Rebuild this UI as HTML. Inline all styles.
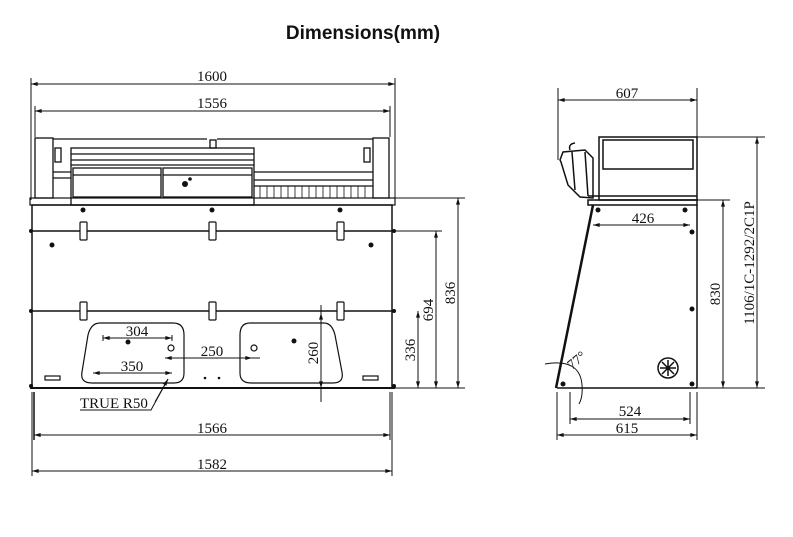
<!DOCTYPE html>
<html><head><meta charset="utf-8"><style>
html,body{margin:0;padding:0;background:#fff;width:793px;height:537px;overflow:hidden}
svg{display:block}
text{font-family:"Liberation Serif",serif;font-size:15px;fill:#111}
</style></head><body>
<svg width="793" height="537" viewBox="0 0 793 537" xmlns="http://www.w3.org/2000/svg">
<defs>
<marker id="a" viewBox="0 0 10 6" refX="10" refY="3" markerWidth="10" markerHeight="4" orient="auto-start-reverse" markerUnits="userSpaceOnUse"><path d="M0,0L10,3L0,6z" fill="#111"/></marker>
</defs>
<text x="363" y="39" text-anchor="middle" style="font-family:'Liberation Sans',sans-serif;font-weight:bold;font-size:19px">Dimensions(mm)</text>

<g stroke="#111" fill="none" stroke-width="1">
<line x1="31" y1="78" x2="31" y2="200"/><line x1="395" y1="78" x2="395" y2="198"/>
<line x1="31" y1="84" x2="395" y2="84" marker-start="url(#a)" marker-end="url(#a)"/>
<line x1="35" y1="106" x2="35" y2="137"/><line x1="390" y1="106" x2="390" y2="137"/>
<line x1="35" y1="111" x2="390" y2="111" marker-start="url(#a)" marker-end="url(#a)"/>
</g>
<text x="212" y="81" text-anchor="middle">1600</text>
<text x="212" y="108" text-anchor="middle">1556</text>

<g stroke="#111" fill="none" stroke-width="1.3">
<rect x="35" y="138" width="18" height="60"/>
<rect x="373" y="138" width="16" height="60"/>
<line x1="53" y1="139" x2="207" y2="139"/><line x1="217" y1="139" x2="373" y2="139"/>
<rect x="71" y="148" width="183" height="57"/>
<line x1="71" y1="154" x2="254" y2="154"/><line x1="71" y1="160" x2="254" y2="160"/><line x1="71" y1="165" x2="254" y2="165"/>
<rect x="73" y="168" width="88" height="29"/><rect x="163" y="168" width="89" height="29"/>
<line x1="73" y1="175" x2="161" y2="175"/><line x1="163" y1="175" x2="252" y2="175"/>
<rect x="55" y="148" width="6" height="14"/><rect x="364" y="148" width="6" height="14"/>
<line x1="53" y1="172" x2="71" y2="172"/><line x1="53" y1="178" x2="71" y2="178"/>
<line x1="254" y1="172" x2="373" y2="172"/><line x1="254" y1="180" x2="373" y2="180"/><line x1="254" y1="186" x2="373" y2="186"/>
<rect x="210" y="140" width="6" height="8"/>
</g>
<g stroke="#111" stroke-width="0.8" fill="none">
<path d="M260 186v12M267 186v12M274 186v12M281 186v12M288 186v12M295 186v12M302 186v12M309 186v12M316 186v12M323 186v12M330 186v12M337 186v12M344 186v12M351 186v12M358 186v12M365 186v12"/>
</g>
<circle cx="185" cy="184" r="3" fill="#111"/><circle cx="190" cy="179" r="1.8" fill="#111"/>
<rect x="30" y="198" width="365" height="7" fill="none" stroke="#111" stroke-width="1.2"/>

<g stroke="#111" fill="none" stroke-width="1.5">
<rect x="32" y="205" width="360" height="183"/>
<line x1="30" y1="231" x2="395" y2="231"/>
<line x1="30" y1="311" x2="395" y2="311"/>
<line x1="30" y1="388" x2="395" y2="388" stroke-width="2"/>
</g>
<g fill="#111">
<circle cx="83" cy="210" r="2.5"/><circle cx="212" cy="210" r="2.5"/><circle cx="340" cy="210" r="2.5"/>
<circle cx="52" cy="245" r="2.5"/><circle cx="371" cy="245" r="2.5"/>
<circle cx="31" cy="231" r="2"/><circle cx="394" cy="231" r="2"/><circle cx="31" cy="311" r="2"/><circle cx="394" cy="311" r="2"/><circle cx="31" cy="386" r="2"/><circle cx="394" cy="386" r="2"/>
<circle cx="205" cy="378" r="1.3"/><circle cx="219" cy="378" r="1.3"/>
</g>
<g stroke="#111" fill="#fff" stroke-width="1.2">
<rect x="80" y="222" width="7" height="18" rx="1"/><rect x="209" y="222" width="7" height="18" rx="1"/><rect x="337" y="222" width="7" height="18" rx="1"/>
<rect x="80" y="302" width="7" height="18" rx="1"/><rect x="209" y="302" width="7" height="18" rx="1"/><rect x="337" y="302" width="7" height="18" rx="1"/>
<rect x="45" y="376" width="15" height="4"/><rect x="363" y="376" width="15" height="4"/>
</g>
<g stroke="#111" fill="none" stroke-width="1.2">
<path d="M100 323H173Q184 323 184 335V373Q184 383 174 383H92Q80 383 82 372L88 335Q91 323 100 323Z"/>
<path d="M250 323H324Q332 323 335 335L342 372Q344 383 333 383H251Q240 383 240 373V335Q240 323 250 323Z"/>
<circle cx="171" cy="348" r="3"/><circle cx="254" cy="348" r="3"/>
</g>
<circle cx="128" cy="342" r="2.5" fill="#111"/><circle cx="294" cy="341" r="2.5" fill="#111"/>

<g stroke="#111" fill="none" stroke-width="1">
<line x1="103" y1="338" x2="172" y2="338" marker-start="url(#a)" marker-end="url(#a)"/>
<line x1="103" y1="335" x2="103" y2="341"/><line x1="172" y1="335" x2="172" y2="341"/>
<line x1="93" y1="373" x2="172" y2="373" marker-start="url(#a)" marker-end="url(#a)"/>
<line x1="165" y1="358" x2="260" y2="358"/>
<line x1="180" y1="358" x2="165" y2="358" marker-end="url(#a)"/>
<line x1="240" y1="358" x2="252" y2="358" marker-end="url(#a)"/>
<line x1="321" y1="305" x2="321" y2="402"/>
<line x1="321" y1="320" x2="321" y2="313" marker-end="url(#a)"/>
<line x1="321" y1="380" x2="321" y2="388" marker-end="url(#a)"/>
<path d="M168 379L151 410H80"/>
<line x1="155" y1="402" x2="168" y2="379" marker-end="url(#a)"/>
</g>
<text x="137" y="336" text-anchor="middle">304</text>
<text x="132" y="371" text-anchor="middle">350</text>
<text x="212" y="356" text-anchor="middle">250</text>
<text transform="translate(318,353) rotate(-90)" text-anchor="middle">260</text>
<text x="80" y="408">TRUE R50</text>

<g stroke="#111" fill="none" stroke-width="1">
<line x1="395" y1="198" x2="465" y2="198"/><line x1="395" y1="231" x2="442" y2="231"/><line x1="395" y1="388" x2="465" y2="388"/>
<line x1="458" y1="198" x2="458" y2="388" marker-start="url(#a)" marker-end="url(#a)"/>
<line x1="436" y1="231" x2="436" y2="388" marker-start="url(#a)" marker-end="url(#a)"/>
<line x1="418" y1="311" x2="418" y2="388" marker-start="url(#a)" marker-end="url(#a)"/>
</g>
<text transform="translate(455,293) rotate(-90)" text-anchor="middle">836</text>
<text transform="translate(433,310) rotate(-90)" text-anchor="middle">694</text>
<text transform="translate(415,350) rotate(-90)" text-anchor="middle">336</text>

<g stroke="#111" fill="none" stroke-width="1">
<line x1="32" y1="392" x2="32" y2="476"/><line x1="392" y1="392" x2="392" y2="476"/>
<line x1="34" y1="392" x2="34" y2="440" stroke-width="1.5"/><line x1="390" y1="392" x2="390" y2="440"/>
<line x1="34" y1="435" x2="390" y2="435" marker-start="url(#a)" marker-end="url(#a)"/>
<line x1="32" y1="471" x2="392" y2="471" marker-start="url(#a)" marker-end="url(#a)"/>
</g>
<text x="212" y="433" text-anchor="middle">1566</text>
<text x="212" y="469" text-anchor="middle">1582</text>

<g stroke="#111" fill="none" stroke-width="1">
<line x1="558" y1="88" x2="558" y2="160"/><line x1="697" y1="88" x2="697" y2="137"/>
<line x1="558" y1="100" x2="697" y2="100" marker-start="url(#a)" marker-end="url(#a)"/>
<line x1="697" y1="137" x2="765" y2="137"/><line x1="697" y1="200" x2="730" y2="200"/><line x1="697" y1="388" x2="765" y2="388"/>
<line x1="757" y1="137" x2="757" y2="388" marker-start="url(#a)" marker-end="url(#a)"/>
<line x1="723" y1="200" x2="723" y2="388" marker-start="url(#a)" marker-end="url(#a)"/>
<line x1="593" y1="225" x2="690" y2="225" marker-start="url(#a)" marker-end="url(#a)"/>
<line x1="570" y1="392" x2="570" y2="424"/><line x1="690" y1="392" x2="690" y2="424"/>
<line x1="557" y1="392" x2="557" y2="440"/><line x1="697" y1="392" x2="697" y2="440"/>
<line x1="570" y1="419" x2="690" y2="419" marker-start="url(#a)" marker-end="url(#a)"/>
<line x1="557" y1="435" x2="697" y2="435" marker-start="url(#a)" marker-end="url(#a)"/>
<path d="M545 364Q580 358 582 385Q583 397 579 404"/>
</g>
<text x="627" y="98" text-anchor="middle">607</text>
<text x="643" y="223" text-anchor="middle">426</text>
<text x="630" y="416" text-anchor="middle">524</text>
<text x="627" y="433" text-anchor="middle">615</text>
<text transform="translate(720,294) rotate(-90)" text-anchor="middle">830</text>
<text transform="translate(754,263) rotate(-90)" text-anchor="middle">1106/1C-1292/2C1P</text>
<text transform="translate(572,370) rotate(-40)" style="font-size:14px">77°</text>

<g stroke="#111" fill="none" stroke-width="1.5">
<rect x="599" y="137" width="98" height="63"/>
<rect x="603" y="140" width="90" height="29"/>
<line x1="588" y1="196" x2="697" y2="196"/>
<rect x="588" y="200" width="109" height="5"/>
<line x1="697" y1="205" x2="697" y2="388"/>
<line x1="557" y1="388" x2="697" y2="388"/>
<line x1="593" y1="205" x2="556" y2="388" stroke-width="2.5"/>
<path d="M560 160L563 152L585 150L590 155L593 158L593 198L580 197L568 185L561 162Z"/>
<path d="M572 152L575 190M585 152L588 196"/>
<path d="M570 150Q568 144 575 143"/>
</g>
<g fill="#111">
<circle cx="598" cy="210" r="2.5"/><circle cx="685" cy="210" r="2.5"/><circle cx="692" cy="232" r="2.5"/><circle cx="692" cy="309" r="2.5"/><circle cx="692" cy="384" r="2.5"/><circle cx="563" cy="384" r="2.5"/>
</g>
<circle cx="668" cy="368" r="10" fill="none" stroke="#111" stroke-width="1.5"/>
<g stroke="#111" stroke-width="1.5"><path d="M660 368h16M668 360v16M662 362l12 12M674 362l-12 12"/></g>
</svg>
</body></html>
